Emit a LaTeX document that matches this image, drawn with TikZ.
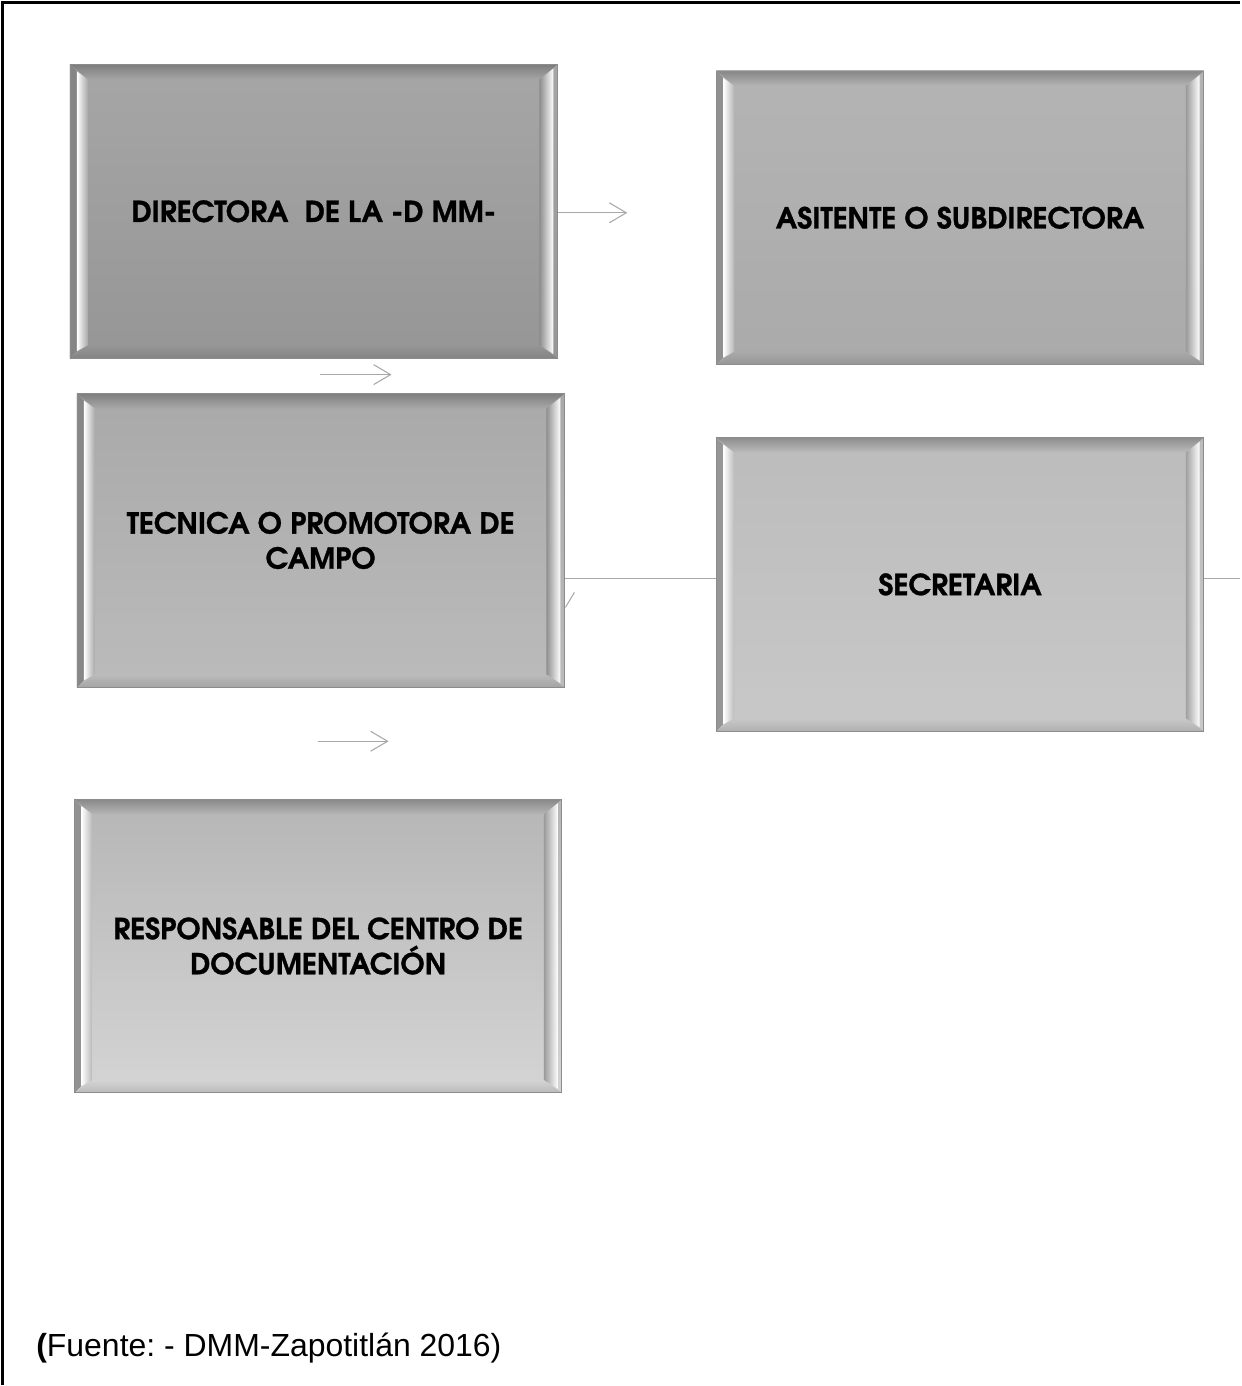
\documentclass[tikz,border=0pt]{standalone}
\usepackage{fontspec}
\setmainfont{Liberation Sans}
\newfontfamily\boxfont[Extension=.otf,UprightFont=*-bold,FakeBold=1]{texgyreadventor}
\usetikzlibrary{arrows.meta,calc}
\frenchspacing

\definecolor{dirtop}{HTML}{A6A6A6}
\definecolor{dirbot}{HTML}{969696}
\definecolor{asitop}{HTML}{B4B4B4}
\definecolor{asibot}{HTML}{AAAAAA}
\definecolor{tectop}{HTML}{A9A9A9}
\definecolor{tecbot}{HTML}{BBBBBB}
\definecolor{sectop}{HTML}{BCBCBC}
\definecolor{secbot}{HTML}{C8C8C8}
\definecolor{restop}{HTML}{B6B6B6}
\definecolor{resbot}{HTML}{D4D4D4}
\definecolor{linkgray}{HTML}{A8A8A8}

\begin{document}
\begin{tikzpicture}[x=0.02cm,y=-0.02cm]
% Cajas
\tikzset{bevel box/.style 2 args={rectangle,draw=gray!90,line width=0.5pt,
    minimum width=9.76cm,minimum height=5.88cm,inner sep=0pt,
    top color=#1,bottom color=#2,align=center,
    font=\boxfont\fontsize{16.5}{20}\selectfont,
    path picture={
      \coordinate (nw) at (path picture bounding box.north west);
      \coordinate (ne) at (path picture bounding box.north east);
      \coordinate (sw) at (path picture bounding box.south west);
      \coordinate (se) at (path picture bounding box.south east);
      \shade[top color=#1!75!black,bottom color=#1] (nw) -- (ne) -- ($(ne)+(-0.36cm,-0.3cm)$) -- ($(nw)+(0.36cm,-0.3cm)$) -- cycle;
      \shade[top color=#2,bottom color=#2!88!black] (sw) -- (se) -- ($(se)+(-0.36cm,0.26cm)$) -- ($(sw)+(0.36cm,0.26cm)$) -- cycle;
      \fill[#1!80!black] (nw) -- ($(nw)+(0.14cm,-0.14cm)$) -- ($(sw)+(0.14cm,0.14cm)$) -- (sw) -- cycle;
      \shade[left color=white,right color=#1] ($(nw)+(0.14cm,-0.14cm)$) -- ($(nw)+(0.36cm,-0.3cm)$) -- ($(sw)+(0.36cm,0.26cm)$) -- ($(sw)+(0.14cm,0.14cm)$) -- cycle;
      \shade[left color=#1!85!black,right color=white] ($(ne)+(-0.36cm,-0.3cm)$) -- ($(ne)+(-0.08cm,-0.08cm)$) -- ($(se)+(-0.08cm,0.08cm)$) -- ($(se)+(-0.36cm,0.26cm)$) -- cycle;
    }}}
\tikzset{link/.style={draw=linkgray,line width=0.6pt}}
\tikzset{link arrow/.style={link,-{Straight Barb[length=0.34cm,width=0.4cm,line width=0.6pt]}}}

% marco
\draw[line width=1.6pt] (2.5,1386) -- (2.5,2.5) -- (1241,2.5);

\node[bevel box={dirtop}{dirbot}] (dir) at (314,211.5) {DIRECTORA\ \ DE LA -D MM-};
\node[bevel box={asitop}{asibot}] (asi) at (961,218) {ASITENTE O SUBDIRECTORA};
\node[bevel box={tectop}{tecbot}] (tec) at (321,541) {TECNICA O PROMOTORA DE\\CAMPO};
\node[bevel box={sectop}{secbot}] (sec) at (961,585) {SECRETARIA};
\node[bevel box={restop}{resbot}] (res) at (318.5,947) {RESPONSABLE DEL CENTRO DE\\DOCUMENTACIÓN};

\node[anchor=west,inner sep=0pt,font=\fontsize{18.2}{21}\selectfont] (fuente) at (36,1349) {\textbf{(}Fuente: - DMM-Zapotitlán 2016)};

% flechas
\coordinate (dirend) at (628,213);
\coordinate (a1) at (320,375);
\coordinate (a2) at (392,375);
\coordinate (b1) at (318,742);
\coordinate (b2) at (389,742);
\coordinate (tick1) at (566,608);
\coordinate (tick2) at (575,593);
\coordinate (secend) at (1241,579);

\draw[link arrow] (dir.east |- dirend) -- (dirend);
\draw[link arrow] (a1) -- (a2);
\draw[link arrow] (b1) -- (b2);
\draw[link] (tec.east |- secend) -- (sec.west |- secend) (sec.east |- secend) -- (secend);
\draw[link] (tick1) -- (tick2);

\useasboundingbox (0,0) rectangle (1241,1386);
\end{tikzpicture}
\end{document}
